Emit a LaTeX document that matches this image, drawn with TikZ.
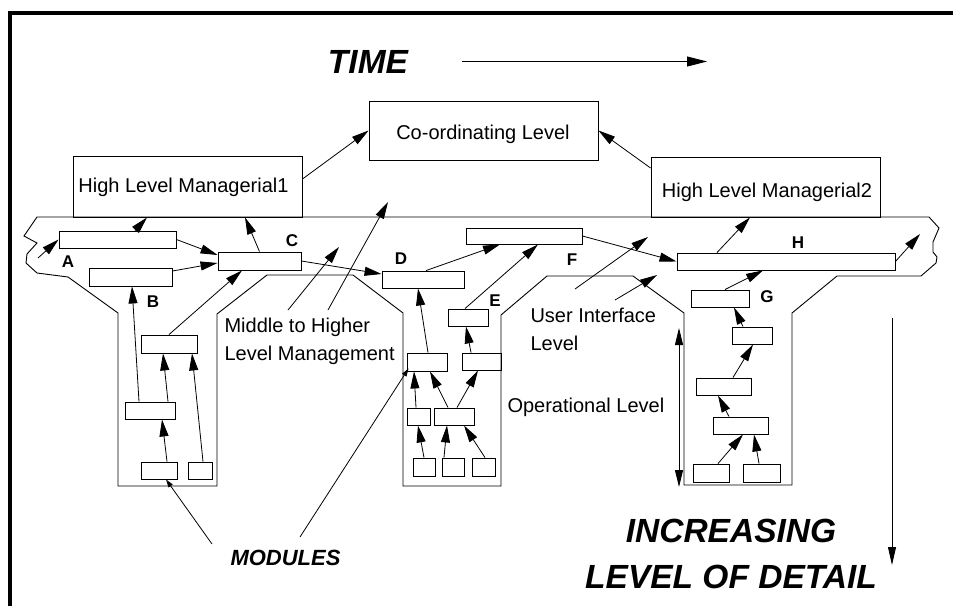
\documentclass[tikz,border=0pt]{standalone}
\usepackage{fontspec}
\setmainfont{Liberation Sans}
\usetikzlibrary{arrows.meta,fit}
\begin{document}
\begin{tikzpicture}[x=1pt,y=-1pt,
  bx/.style={draw, line width=0.9pt, inner sep=0pt, rectangle},
  ln/.style={line width=0.8pt},
  arr/.style={line width=0.8pt, -{Triangle[length=17pt,width=9pt]}},
  sarr/.style={line width=0.8pt, -{Triangle[length=8pt,width=5pt]}},
  lbl/.style={font=\fontsize{17}{19}\selectfont\bfseries},
  boxtxt/.style={font=\fontsize{20}{24}\selectfont, anchor=base, inner sep=0pt},
  txt/.style={font=\fontsize{20}{28}\selectfont, align=left},
  big/.style={font=\fontsize{33.5}{46}\selectfont\bfseries\itshape, align=center}]
\useasboundingbox (0,0) rectangle (953,606);
% frame
\draw[line width=4pt] (9.5,606) -- (9.5,13.3) -- (953,13.3);
% outline of the levels
\draw[line width=0.9pt] (37,217) -- (24,236) -- (37,243) -- (27,254) -- (26,263) -- (37,273) -- (68,277)
  -- (118,313) -- (118,486) -- (217,486) -- (217,314) -- (267,275) -- (353,275) -- (403,313)
  -- (403,486) -- (501,486) -- (501,315) -- (547,276) -- (633,276) -- (684,313) -- (684,485)
  -- (792,485) -- (792,313) -- (837,276) -- (921,276) -- (936,263) -- (937,257) -- (933,252)
  -- (933,242) -- (939,228) -- (929,217) -- cycle;
% title
\node[big] (time) at (368,62) {TIME};
\coordinate (t1) at (462,61.5);
\coordinate (t2) at (707,61.5);
\draw[line width=0.8pt, -{Triangle[length=20pt,width=10pt]}] (t1) -- (t2);
% top boxes
\node[bx, fit={(369,101) (598,160)}] (coord) {};
\node[bx, fit={(73,156) (302,217)}] (hlm1) {};
\node[bx, fit={(651,157) (880,217)}] (hlm2) {};
\node[boxtxt] (coordt) at (483,139) {Co-ordinating Level};
\node[boxtxt] (hlm1t) at (183.5,192.7) {High Level Managerial1};
\node[boxtxt] (hlm2t) at (767,197.3) {High Level Managerial2};
% band boxes
\node[bx, fit={(59,231) (176,248)}] (A) {};
\node[bx, fit={(89,268) (172,286)}] (B) {};
\node[bx, fit={(218,252) (301,270)}] (C) {};
\node[bx, fit={(382,271) (464,288)}] (D) {};
\node[bx, fit={(466,228) (582,244)}] (F) {};
\node[bx, fit={(448,309) (488,326)}] (E) {};
\node[bx, fit={(677,253) (895,270)}] (H) {};
\node[bx, fit={(691,290) (749,307)}] (G) {};
% right column
\node[bx, fit={(732,327) (772,344)}] (g2) {};
\node[bx, fit={(696,378) (751,395)}] (g3) {};
\node[bx, fit={(713,417) (768,434)}] (g4) {};
\node[bx, fit={(693,464) (729,482)}] (g5) {};
\node[bx, fit={(743,464) (780,482)}] (g6) {};
% left column
\node[bx, fit={(141,335) (197,353)}] (l1) {};
\node[bx, fit={(125,402) (175,419)}] (l2) {};
\node[bx, fit={(141,462) (177,479)}] (l3) {};
\node[bx, fit={(188,462) (212,479)}] (l4) {};
% middle column
\node[bx, fit={(407,353) (447,371)}] (m1) {};
\node[bx, fit={(462,353) (501,370)}] (m2) {};
\node[bx, fit={(407,408) (430,425)}] (m3) {};
\node[bx, fit={(434,408) (474,425)}] (m4) {};
\node[bx, fit={(413,458) (435,476)}] (m5) {};
\node[bx, fit={(442,458) (464,476)}] (m6) {};
\node[bx, fit={(472,458) (495,476)}] (m7) {};
% letters
\node[lbl] (la) at (68,262) {A};
\node[lbl] (lb) at (153,302) {B};
\node[lbl] (lc) at (292,241) {C};
\node[lbl] (ld) at (401,259) {D};
\node[lbl] (le) at (495,301) {E};
\node[lbl] (lf) at (572,260) {F};
\node[lbl] (lg) at (767,297) {G};
\node[lbl] (lh) at (798,243) {H};
% texts
\node[txt, anchor=west] (mid) at (221,341) {Middle to Higher\\Level Management};
\node[txt, anchor=west] (ui) at (527,329) {User Interface\\Level};
\node[txt, anchor=west] (op) at (504,407) {Operational Level};
\node[font=\fontsize{22}{24}\selectfont\bfseries\itshape] (mod) at (285.5,558) {MODULES};
\node[big] (inc) at (731,554) {INCREASING\\LEVEL OF DETAIL};
% connectors top
\draw[arr] ([yshift=7.5pt]hlm1.east) -- (coord.west);
\draw[arr] ([yshift=19pt]hlm2.west) -- (coord.east);
\draw[arr] ([xshift=17.5pt]A.north) -- ([xshift=-40.5pt]hlm1.south);
\draw[arr] (C.north) -- ([xshift=57.5pt]hlm1.south);
\coordinate (ain) at (38,258);
\draw[arr] (ain) -- (A.west);
\draw[arr] (A.east) -- ([yshift=6pt]C.west);
\draw[arr] ([yshift=6pt]B.east) -- ([yshift=-2pt]C.west);
\draw[arr] (C.east) -- ([yshift=5.5pt]D.west);
\draw[arr] ([xshift=3pt]D.north) -- ([xshift=-24pt]F.south);
\draw[arr] ([xshift=-3pt]E.north) -- ([xshift=14pt]F.south);
\draw[arr] (F.east) -- (H.west);
\draw[arr] ([xshift=-69pt]H.north) -- ([xshift=-15.5pt]hlm2.south);
\coordinate (hout) at (920,234);
\draw[arr] (H.east) -- (hout);
% left column connectors
\draw[arr] ([xshift=-11pt]l2.north) -- ([xshift=1.5pt]B.south);
\draw[arr] (l1.north) -- ([xshift=-17.5pt]C.south);
\draw[arr] ([xshift=18pt]l2.north) -- ([xshift=-6pt]l1.south);
\draw[arr] ([xshift=3pt]l4.north) -- ([xshift=23pt]l1.south);
\draw[arr] ([xshift=8pt]l3.north) -- ([xshift=12pt]l2.south);
% middle column connectors
\draw[arr] ([xshift=1pt]m1.north) -- ([xshift=-5pt]D.south);
\draw[arr] ([xshift=-10.5pt]m2.north) -- ([xshift=-2pt]E.south);
\draw[arr] ([xshift=-2.5pt]m3.north) -- ([xshift=-13pt]m1.south);
\draw[arr] ([xshift=-6pt]m4.north) -- ([xshift=3pt]m1.south);
\draw[arr] ([xshift=3pt]m4.north) -- ([xshift=-3.5pt]m2.south);
\draw[arr] (m5.north) -- ([xshift=-0.5pt]m3.south);
\draw[arr] ([xshift=-9pt]m6.north) -- ([xshift=-7pt]m4.south);
\draw[arr] ([xshift=1.5pt]m7.north) -- ([xshift=10pt]m4.south);
% right column connectors
\draw[arr] ([xshift=5pt]G.north) -- ([xshift=-23pt]H.south);
\draw[arr] ([xshift=-9pt]g2.north) -- ([xshift=14pt]G.south);
\draw[arr] ([xshift=9.5pt]g3.north) -- ([xshift=1pt]g2.south);
\draw[arr] ([xshift=-11.5pt]g4.north) -- ([xshift=-5.5pt]g3.south);
\draw[arr] ([xshift=7pt]g5.north) -- ([xshift=2.5pt]g4.south);
\draw[arr] ([xshift=-2.5pt]g6.north) -- ([xshift=13.5pt]g4.south);
% modules pointers
\coordinate (mo1) at (212,544);
\coordinate (mo2) at (300,537);
\draw[sarr] (mo1) -- ([xshift=7pt]l3.south);
\draw[sarr] (mo2) -- ([xshift=2pt,yshift=3pt]m1.south west);
% middle-to-higher pointers
\coordinate (mh1) at (288,310);
\coordinate (mh1e) at (339,247);
\coordinate (mh2) at (328,310);
\coordinate (mh2e) at (388,202);
\draw[arr] (mh1) -- (mh1e);
\draw[arr] (mh2) -- (mh2e);
% user interface pointers
\coordinate (ui1) at (575,289);
\coordinate (ui1e) at (648,237);
\coordinate (ui2) at (615,300);
\coordinate (ui2e) at (657,275);
\draw[arr] (ui1) -- (ui1e);
\draw[arr] (ui2) -- (ui2e);
% operational level span
\coordinate (op1) at (679,328);
\coordinate (op2) at (679,487);
\draw[line width=0.8pt, {Triangle[length=17pt,width=8pt]}-{Triangle[length=17pt,width=8pt]}] (op1) -- (op2);
% detail arrow
\coordinate (dt1) at (892,318);
\coordinate (dt2) at (892,565);
\draw[line width=0.8pt, -{Triangle[length=18pt,width=8pt]}] (dt1) -- (dt2);
\end{tikzpicture}
\end{document}
